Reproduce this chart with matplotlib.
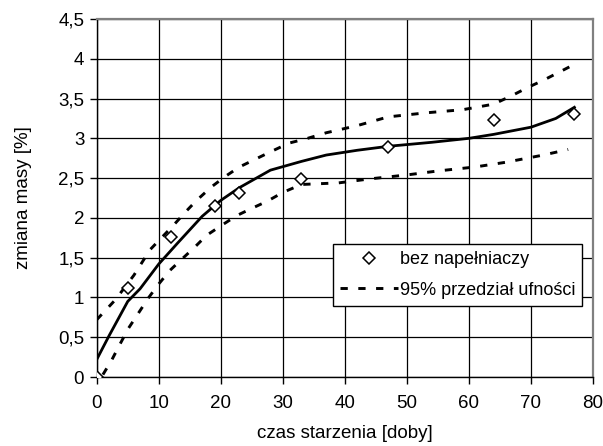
import matplotlib.pyplot as plt
from matplotlib.ticker import FuncFormatter

plt.rcParams['font.family'] = ['Liberation Sans', 'DejaVu Sans']

# measured points
pts_x = [0, 5, 12, 19, 23, 33, 47, 64, 77]
pts_y = [0.0, 1.12, 1.76, 2.15, 2.31, 2.49, 2.89, 3.23, 3.30]

# fitted curve
fit_x = [0, 2, 5, 7, 10, 13, 17, 20, 23, 28, 33, 37, 42, 47, 54, 60, 64, 70, 74, 77]
fit_y = [0.22, 0.52, 0.95, 1.11, 1.42, 1.68, 2.02, 2.22, 2.38, 2.60, 2.71, 2.79, 2.85, 2.90,
         2.95, 3.00, 3.05, 3.14, 3.25, 3.39]

# 95% confidence band
up_x = [0, 3, 6, 8.6, 12.4, 14.5, 16.1, 18.5, 20.7, 23, 28, 31, 34, 37, 42, 47, 53, 59,
        64, 67, 69.5, 72, 74, 77]
up_y = [0.72, 0.97, 1.28, 1.60, 1.91, 2.09, 2.22, 2.39, 2.52, 2.64, 2.83, 2.94, 3.00, 3.07,
        3.16, 3.27, 3.32, 3.36, 3.43, 3.54, 3.64, 3.73, 3.81, 3.93]
lo_x = [1, 2.4, 3.8, 5.1, 6.7, 8.3, 9.9, 11.8, 13.7, 15.9, 17.7, 20.2, 22.6, 25, 27.5,
        30, 33, 36, 39, 44, 50, 55, 61, 66, 72, 76]
lo_y = [0.03, 0.21, 0.42, 0.61, 0.80, 0.99, 1.16, 1.34, 1.48, 1.64, 1.78, 1.91, 2.03, 2.12,
        2.21, 2.32, 2.42, 2.43, 2.44, 2.49, 2.54, 2.59, 2.64, 2.70, 2.79, 2.86]

fig = plt.figure(figsize=(6.03, 4.46), dpi=100)
ax = fig.add_axes([0.1604, 0.1547, 0.823, 0.8027])

ax.grid(True, color='black', linewidth=0.9)
ax.set_axisbelow(True)

ax.plot(fit_x, fit_y, color='black', linewidth=2, zorder=3)
ax.plot(up_x, up_y, color='black', linewidth=2.1, dashes=(2.5, 3.6), zorder=3)
ax.plot(lo_x, lo_y, color='black', linewidth=2.1, dashes=(2.5, 3.6), zorder=3,
        label='95% przedział ufności')
ax.plot(pts_x, pts_y, linestyle='none', marker='D', markersize=5.8, markerfacecolor='white',
        markeredgecolor='black', markeredgewidth=1.1, zorder=4, label='bez napełniaczy')

ax.set_xlim(0, 80)
ax.set_ylim(0, 4.5)
ax.set_xticks(range(0, 81, 10))
ax.set_yticks([i * 0.5 for i in range(10)])
ax.yaxis.set_major_formatter(FuncFormatter(lambda v, p: ('%g' % v).replace('.', ',')))
ax.tick_params(direction='out', length=5, width=1, labelsize=13.5)
ax.tick_params(axis='x', pad=8)
ax.tick_params(axis='y', pad=4)

for s in ['top', 'right']:
    ax.spines[s].set_color('#808080')
    ax.spines[s].set_linewidth(1.6)
for s in ['left', 'bottom']:
    ax.spines[s].set_color('black')
    ax.spines[s].set_linewidth(1)

ax.set_xlabel('czas starzenia [doby]', fontsize=13.5, labelpad=9)
ax.set_ylabel('zmiana masy [%]', fontsize=13.5, labelpad=19)

handles, labels = ax.get_legend_handles_labels()
leg = ax.legend(handles[::-1], labels[::-1], loc='upper left', bbox_to_anchor=(0.476, 0.3715),
                borderaxespad=0, fontsize=13, frameon=True, fancybox=False, framealpha=1,
                edgecolor='black', handlelength=3.2, borderpad=0.4, labelspacing=0.75,
                handletextpad=0.1)
leg.get_frame().set_linewidth(1)

plt.savefig('out.png', dpi=100)
